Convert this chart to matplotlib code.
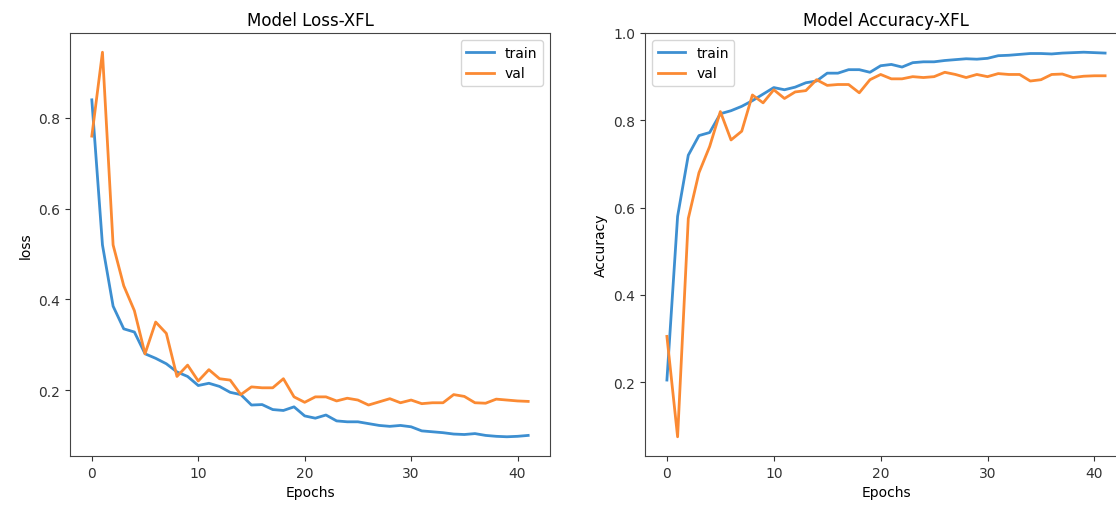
import matplotlib
matplotlib.use('Agg')
import matplotlib.pyplot as plt
import numpy as np

# training history (42 epochs)
epochs = np.arange(42)

train_loss = [0.84, 0.52, 0.385, 0.335, 0.328, 0.28, 0.27, 0.258, 0.24, 0.23,
              0.21, 0.215, 0.208, 0.195, 0.19, 0.167, 0.168, 0.157, 0.155, 0.163,
              0.143, 0.138, 0.145, 0.132, 0.13, 0.13, 0.126, 0.122, 0.12, 0.122,
              0.119, 0.11, 0.108, 0.106, 0.103, 0.102, 0.104, 0.1, 0.098, 0.097,
              0.098, 0.1]
val_loss = [0.76, 0.945, 0.52, 0.43, 0.375, 0.28, 0.35, 0.325, 0.23, 0.255,
            0.22, 0.245, 0.225, 0.222, 0.19, 0.207, 0.205, 0.205, 0.225, 0.185,
            0.173, 0.185, 0.185, 0.176, 0.182, 0.178, 0.167, 0.174, 0.181, 0.172,
            0.178, 0.17, 0.172, 0.172, 0.19, 0.186, 0.172, 0.171, 0.18, 0.178,
            0.176, 0.175]

train_acc = [0.205, 0.58, 0.72, 0.765, 0.772, 0.815, 0.822, 0.832, 0.845, 0.86,
             0.875, 0.87, 0.876, 0.886, 0.89, 0.908, 0.908, 0.916, 0.916, 0.91,
             0.925, 0.928, 0.922, 0.932, 0.934, 0.934, 0.937, 0.939, 0.941, 0.94,
             0.942, 0.948, 0.949, 0.951, 0.953, 0.953, 0.952, 0.954, 0.955, 0.956,
             0.955, 0.954]
val_acc = [0.305, 0.075, 0.575, 0.68, 0.74, 0.82, 0.755, 0.775, 0.858, 0.84,
           0.87, 0.85, 0.865, 0.868, 0.893, 0.88, 0.882, 0.882, 0.863, 0.893,
           0.905, 0.895, 0.895, 0.9, 0.898, 0.9, 0.91, 0.905, 0.898, 0.905,
           0.9, 0.907, 0.905, 0.905, 0.89, 0.893, 0.905, 0.906, 0.898, 0.901,
           0.902, 0.902]

train_color = '#3d8fd1'
val_color = '#fb8a33'

plt.rcParams['axes.edgecolor'] = '#444444'
plt.rcParams['xtick.color'] = '#333333'
plt.rcParams['ytick.color'] = '#333333'

fig = plt.figure(figsize=(11.16, 5.06), dpi=100)

# left panel: loss
ax1 = fig.add_axes([70 / 1116, 49 / 506, 480 / 1116, 423 / 506])
ax1.plot(epochs, train_loss, color=train_color, linewidth=2, label='train')
ax1.plot(epochs, val_loss, color=val_color, linewidth=2, label='val')
ax1.set_title('Model Loss-XFL')
ax1.set_xlabel('Epochs')
ax1.set_ylabel('loss')
ax1.set_yticks([0.2, 0.4, 0.6, 0.8])
ax1.legend(loc='upper right')

# right panel: accuracy (cropped on the right like the reference)
ax2 = fig.add_axes([645 / 1116, 49 / 506, 482 / 1116, 423 / 506])
ax2.plot(epochs, train_acc, color=train_color, linewidth=2, label='train')
ax2.plot(epochs, val_acc, color=val_color, linewidth=2, label='val')
ax2.set_title('Model Accuracy-XFL')
ax2.set_xlabel('Epochs')
ax2.set_ylabel('Accuracy')
ax2.set_ylim(0.031, 1.0)
ax2.set_yticks([0.2, 0.4, 0.6, 0.8, 1.0])
ax2.legend(loc='upper left')

plt.savefig('out.png', dpi=100)
plt.close()
